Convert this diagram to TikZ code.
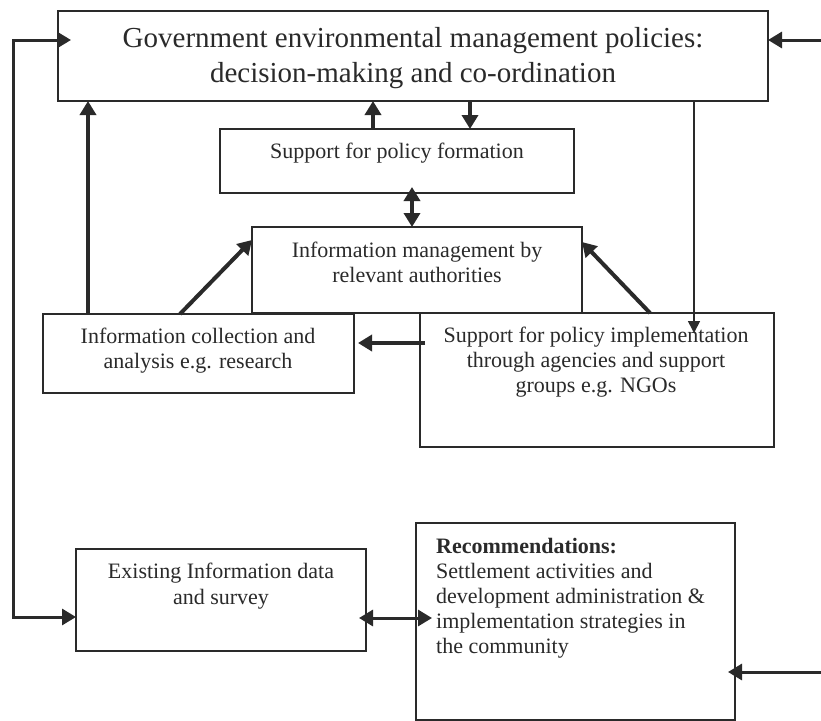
\documentclass[tikz,border=0pt]{standalone}
\usepackage{fontspec}
\setmainfont{Liberation Serif}
\usetikzlibrary{arrows.meta}
\definecolor{ink}{RGB}{42,42,42}
\tikzset{
  box/.style={draw=ink, line width=2pt, inner sep=0pt, outer sep=0pt, anchor=north west},
  big/.style={font=\fontsize{29}{35}\selectfont, text=ink, inner sep=0pt, anchor=base},
  txt/.style={font=\fontsize{22}{25}\selectfont, text=ink, inner sep=0pt, anchor=base},
  boldtxt/.style={font=\fontsize{22}{25}\selectfont\bfseries, text=ink, inner sep=0pt, anchor=base west},
  lefttxt/.style={txt, anchor=base west},
  tip/.tip={Triangle[length=14pt,width=16pt]},
  smalltip/.tip={Triangle[length=12pt,width=12pt]},
  thickarr/.style={draw=ink, line width=4pt, -tip},
  midline/.style={draw=ink, line width=3pt},
  thinarr/.style={draw=ink, line width=1.7pt, -smalltip},
}
\begin{document}
\begin{tikzpicture}[x=1pt,y=-1pt]
\path[use as bounding box, fill=white] (0,0) rectangle (821,720);

% boxes
\node[box, minimum width=710pt, minimum height=90pt]  (top)   at (58,11)  {};
\node[box, minimum width=354pt, minimum height=64pt]  (form)  at (220,129) {};
\node[box, minimum width=330pt, minimum height=86pt]  (mgmt)  at (252,227) {};
\node[box, minimum width=311pt, minimum height=79pt]  (coll)  at (43,314)  {};
\node[box, minimum width=354pt, minimum height=134pt] (impl)  at (420,313) {};
\node[box, minimum width=290pt, minimum height=102pt] (exist) at (76,549)  {};
\node[box, minimum width=319pt, minimum height=197pt] (rec)   at (416,523) {};

% texts
\node[big] (t1) at (413,47) {Government environmental management policies:};
\node[big] (t2) at (413,82) {decision-making and co-ordination};
\node[txt] (f1) at (397,158) {Support for policy formation};
\node[txt] (m1) at (417,257) {Information management by};
\node[txt] (m2) at (417,282) {relevant authorities};
\node[txt] (c1) at (198,343) {Information collection and};
\node[txt] (c2) at (198,368) {analysis e.g. research};
\node[txt] (i1) at (596,342) {Support for policy implementation};
\node[txt] (i2) at (596,367) {through agencies and support};
\node[txt] (i3) at (596,392) {groups e.g. NGOs};
\node[txt] (e1) at (221,578) {Existing Information data};
\node[txt] (e2) at (221,604) {and survey};
\node[boldtxt] (r0) at (436,553) {Recommendations:};
\node[lefttxt] (r1) at (436,578) {Settlement activities and};
\node[lefttxt] (r2) at (436,603) {development administration \&};
\node[lefttxt] (r3) at (436,628) {implementation strategies in};
\node[lefttxt] (r4) at (436,653) {the community};

% connectors
\coordinate (lt) at (13,40);
\coordinate (lb) at (13,617);
\draw[midline, tip-tip, shorten <=-13pt] (top.west |- lt) -- (lt) -- (lb) -- (exist.west |- lb);
\coordinate (rt) at (822,40);
\draw[midline, -tip] (rt) -- (top.east |- rt);
\coordinate (rb) at (822,672);
\draw[midline, -tip, shorten >=-7pt] (rb) -- (rec.east |- rb);

\draw[thickarr] (coll.north -| 88,0) -- (top.south -| 88,0);
\draw[thickarr] (form.north -| 373,0) -- (top.south -| 373,0);
\draw[thickarr] (top.south -| 470,0) -- (form.north -| 470,0);
\draw[thickarr, tip-tip, shorten <=-6pt] (form.south -| 412,0) -- (mgmt.north -| 412,0);
\draw[thickarr] (coll.north -| 180,0) -- (mgmt.west |- 0,240);
\draw[thickarr] (impl.north -| 650,0) -- (mgmt.east |- 0,242);
\draw[thickarr, shorten <=-5pt, shorten >=4pt] (impl.west |- 0,343) -- (coll.east |- 0,343);
\draw[thinarr, shorten >=-20pt] (top.south -| 694,0) -- (impl.north -| 694,0);
\draw[midline, tip-tip, shorten <=-7pt, shorten >=-16pt] (exist.east |- 0,618) -- (rec.west |- 0,618);
\end{tikzpicture}
\end{document}
